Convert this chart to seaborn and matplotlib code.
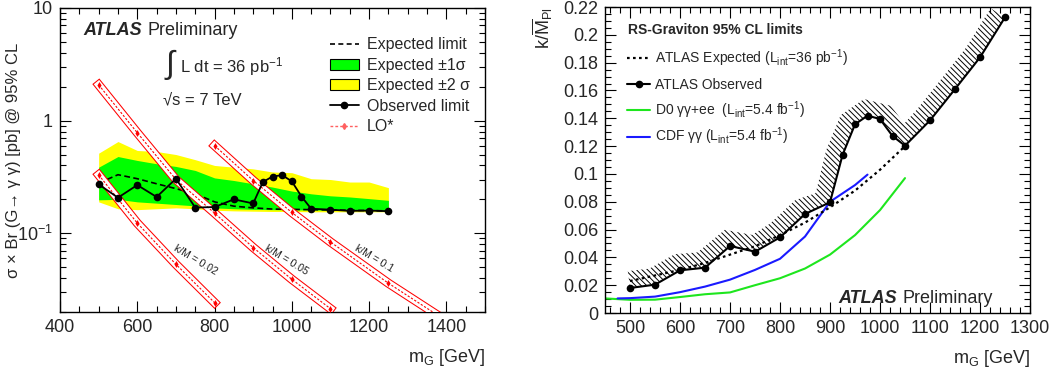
import matplotlib
matplotlib.use("Agg")
import matplotlib.pyplot as plt
from matplotlib import ticker
from matplotlib.lines import Line2D
from matplotlib.patches import Patch
import numpy as np
import seaborn as sns

# ---- left panel: sigma x Br(G -> gamma gamma) limits [pb] ----
MASS = [500, 550, 600, 650, 700, 750, 800, 850, 900, 925, 950, 975,
        1000, 1025, 1050, 1100, 1150, 1200, 1250]
XSEC_OBS = [0.272, 0.207, 0.268, 0.210, 0.305, 0.169, 0.171, 0.200, 0.184, 0.285,
            0.319, 0.328, 0.289, 0.212, 0.165, 0.162, 0.158, 0.159, 0.157]

MASS_EXP = [500, 550, 600, 650, 700, 750, 800, 850, 900, 950, 1000, 1050,
            1100, 1150, 1200, 1250]
XSEC_EXP = [0.279, 0.331, 0.305, 0.275, 0.249, 0.224, 0.190, 0.174, 0.168, 0.164,
            0.163, 0.162, 0.161, 0.160, 0.159, 0.158]
EXP_1S_LO = [0.198, 0.200, 0.190, 0.185, 0.180, 0.175, 0.168, 0.165, 0.163, 0.162,
             0.161, 0.161, 0.160, 0.160, 0.159, 0.159]
EXP_1S_HI = [0.386, 0.480, 0.443, 0.414, 0.392, 0.361, 0.310, 0.294, 0.275, 0.257,
             0.237, 0.224, 0.215, 0.210, 0.203, 0.196]
EXP_2S_LO = [0.190, 0.165, 0.162, 0.165, 0.168, 0.165, 0.160, 0.158, 0.157, 0.156,
             0.156, 0.155, 0.155, 0.155, 0.155, 0.155]
EXP_2S_HI = [0.514, 0.652, 0.543, 0.532, 0.500, 0.450, 0.400, 0.386, 0.373, 0.350,
             0.345, 0.305, 0.300, 0.285, 0.285, 0.254]

# LO* predictions for three couplings
LO_MASS_002 = [500, 600, 700, 800]
LO_XSEC_002 = [0.33, 0.123, 0.053, 0.0242]
LO_MASS_005 = [500, 600, 700, 800, 900, 1000, 1100]
LO_XSEC_005 = [2.08, 0.78, 0.30, 0.151, 0.0747, 0.039, 0.0214]
LO_MASS_01 = [800, 900, 1000, 1100, 1250, 1500]
LO_XSEC_01 = [0.60, 0.294, 0.153, 0.0837, 0.036, 0.010]

# ---- right panel: k / M_Pl limits ----
KM_OBS = [0.0180, 0.0204, 0.0307, 0.0326, 0.0482, 0.0441, 0.0544, 0.0712, 0.0796,
          0.1136, 0.1357, 0.1419, 0.1395, 0.1273, 0.1203, 0.1385, 0.1610, 0.1838, 0.2126]
KM_EXP_MASS = [500, 550, 600, 650, 700, 750, 800, 850, 900, 950, 1000, 1050]
KM_EXP = [0.023, 0.027, 0.031, 0.036, 0.042, 0.048, 0.056, 0.065, 0.076, 0.088,
          0.103, 0.120]
D0_MASS = [450, 500, 550, 600, 650, 700, 750, 800, 850, 900, 950, 1000, 1050]
D0_KM = [0.0105, 0.0095, 0.0096, 0.0115, 0.0135, 0.0148, 0.0200, 0.0250, 0.0320,
         0.0420, 0.0560, 0.0740, 0.0970]
CDF_MASS = [475, 500, 550, 600, 650, 700, 750, 800, 850, 900, 950, 975]
CDF_KM = [0.0105, 0.0107, 0.0118, 0.0150, 0.0190, 0.0240, 0.0310, 0.0390, 0.0550,
          0.0800, 0.0920, 0.0995]

GREEN = "#00ff00"
YELLOW = "#ffff00"
RED = "#ff0000"
D0_GREEN = "#1ee61e"
CDF_BLUE = "#1a1aff"

sns.set_style("ticks")
plt.rcParams["font.family"] = ["Liberation Sans", "DejaVu Sans"]
plt.rcParams["mathtext.fontset"] = "custom"
plt.rcParams["mathtext.rm"] = "Liberation Sans"
plt.rcParams["mathtext.default"] = "regular"
plt.rcParams["hatch.linewidth"] = 0.7
plt.rcParams["hatch.color"] = "black"


def root_ticks(ax, size=13):
    ax.tick_params(which="both", direction="in", top=True, right=True,
                   color="black", width=0.8)
    ax.tick_params(which="major", length=8, labelsize=size, pad=5)
    ax.tick_params(which="minor", length=4)
    for sp in ax.spines.values():
        sp.set_color("black")
        sp.set_linewidth(1.0)


def lo_band(ax, mass, xsec):
    # ROOT-style outlined band around the LO* curve
    sns.lineplot(x=mass, y=xsec, ax=ax, color=RED, lw=6.5,
                 solid_capstyle="projecting", zorder=3)
    sns.lineplot(x=mass, y=xsec, ax=ax, color="white", lw=5.0,
                 solid_capstyle="projecting", zorder=3)
    sns.lineplot(x=mass, y=xsec, ax=ax, color=RED, lw=0.8,
                 linestyle=(0, (2, 1.5)), marker="d", markersize=3.5,
                 markeredgewidth=0, zorder=3)


def hatched_band(ax, x, y, width_px):
    pts = ax.transData.transform(np.column_stack([x, y]))
    tang = np.gradient(pts, axis=0)
    tang /= np.linalg.norm(tang, axis=1)[:, None]
    normal = np.column_stack([-tang[:, 1], tang[:, 0]])
    outer = pts + width_px * normal
    poly = ax.transData.inverted().transform(np.vstack([pts, outer[::-1]]))
    ax.fill(poly[:, 0], poly[:, 1], facecolor="none", edgecolor="black",
            hatch="\\" * 6, lw=0, zorder=1)


fig = plt.figure(figsize=(10.55, 3.7), dpi=100)
ax1 = fig.add_axes([0.0569, 0.1568, 0.4028, 0.8216])
ax2 = fig.add_axes([0.5735, 0.154, 0.4028, 0.827])

# ---------------- left panel ----------------
ax1.set_yscale("log")
ax1.fill_between(MASS_EXP, EXP_2S_LO, EXP_2S_HI, color=YELLOW, lw=0, zorder=1)
ax1.fill_between(MASS_EXP, EXP_1S_LO, EXP_1S_HI, color=GREEN, lw=0, zorder=1)
sns.lineplot(x=MASS_EXP, y=XSEC_EXP, ax=ax1, color="black", lw=1.2,
             linestyle=(0, (3.5, 2)), zorder=2)
for m, xs in [(LO_MASS_002, LO_XSEC_002), (LO_MASS_005, LO_XSEC_005),
              (LO_MASS_01, LO_XSEC_01)]:
    lo_band(ax1, m, xs)
sns.lineplot(x=MASS, y=XSEC_OBS, ax=ax1, color="black", lw=1.3, marker="o",
             markersize=5.5, markeredgewidth=0, zorder=4)

ax1.set_xlim(400, 1500)
ax1.set_ylim(0.02, 10)
ax1.xaxis.set_major_locator(ticker.MultipleLocator(200))
ax1.xaxis.set_minor_locator(ticker.MultipleLocator(50))
ax1.yaxis.set_major_locator(ticker.FixedLocator([0.1, 1, 10]))
ax1.yaxis.set_minor_locator(ticker.LogLocator(base=10, subs=np.arange(2, 10)))
ax1.yaxis.set_minor_formatter(ticker.NullFormatter())
ax1.yaxis.set_major_formatter(ticker.FuncFormatter(
    lambda v, p: "$10^{-1}$" if np.isclose(v, 0.1) else f"{v:g}"))
root_ticks(ax1)
ax1.set_xlabel("m$_{G}$ [GeV]", fontsize=13, loc="right", labelpad=8)
ax1.set_ylabel("σ × Br (G→ γ γ) [pb] @ 95% CL", fontsize=12)
ax1.yaxis.set_label_coords(-0.093, 0.5)

t = ax1.text(0.054, 0.911, "ATLAS", transform=ax1.transAxes, fontsize=13,
             fontweight="bold", fontstyle="italic", va="baseline")
ax1.annotate("Preliminary", xy=(1, 0), xycoords=t, xytext=(4, 0),
             textcoords="offset points", fontsize=13, va="bottom")
ax1.text(0.259, 0.812, "∫", transform=ax1.transAxes, fontsize=23,
         ha="center", va="center")
ax1.text(0.282, 0.806, "L dt = 36 pb$^{-1}$", transform=ax1.transAxes,
         fontsize=12, va="center")
ax1.text(0.242, 0.697, "√s = 7 TeV", transform=ax1.transAxes, fontsize=12,
         va="center")
for xm, ys, lab in [(751, 0.0576, "k/M = 0.02"), (987, 0.0576, "k/M = 0.05"),
                    (1213, 0.0595, "k/M = 0.1")]:
    ax1.text(xm, ys, lab, fontsize=7.5, rotation=-31, ha="center", va="center",
             color="#222222")

handles1 = [
    Line2D([], [], color="black", lw=1.2, linestyle=(0, (3, 2))),
    Patch(facecolor=GREEN, edgecolor="black", lw=0.8),
    Patch(facecolor=YELLOW, edgecolor="black", lw=0.8),
    Line2D([], [], color="black", lw=1.3, marker="o", markersize=4.5),
    Line2D([], [], color="#ff6060", lw=1.0, linestyle=(0, (2, 1.5)),
           marker="d", markersize=3),
]
labels1 = ["Expected limit", "Expected ±1σ", "Expected ±2 σ", "Observed limit", "LO*"]
ax1.legend(handles1, labels1, loc="upper left", bbox_to_anchor=(0.635, 0.903),
           frameon=False, fontsize=11.5, handlelength=1.8, handletextpad=0.5,
           labelspacing=0.34, borderpad=0, borderaxespad=0)

# ---------------- right panel ----------------
ax2.set_xlim(450, 1300)
ax2.set_ylim(0, 0.22)
hatched_band(ax2, MASS, KM_OBS, 17)
sns.lineplot(x=D0_MASS, y=D0_KM, ax=ax2, color=D0_GREEN, lw=1.5, zorder=2)
sns.lineplot(x=CDF_MASS, y=CDF_KM, ax=ax2, color=CDF_BLUE, lw=1.5, zorder=2)
sns.lineplot(x=KM_EXP_MASS, y=KM_EXP, ax=ax2, color="black", lw=1.6,
             linestyle=(0, (1.2, 1.5)), zorder=3)
sns.lineplot(x=MASS, y=KM_OBS, ax=ax2, color="black", lw=1.5, marker="o",
             markersize=5.5, markeredgewidth=0, zorder=4)
ax2.set_xlim(450, 1300)
ax2.set_ylim(0, 0.22)
ax2.xaxis.set_major_locator(ticker.MultipleLocator(100))
ax2.xaxis.set_minor_locator(ticker.MultipleLocator(20))
ax2.yaxis.set_major_locator(ticker.MultipleLocator(0.02))
ax2.yaxis.set_minor_locator(ticker.MultipleLocator(0.005))
ax2.yaxis.set_major_formatter(ticker.FuncFormatter(lambda v, p: f"{v:g}"))
root_ticks(ax2)
ax2.set_xlabel("m$_{G}$ [GeV]", fontsize=13, loc="right", labelpad=8)
ax2.set_ylabel(r"k/$\overline{M}_{Pl}$", fontsize=13, loc="top", labelpad=6)

t2 = ax2.text(0.913, 0.033, "Preliminary", transform=ax2.transAxes, fontsize=13,
              ha="right", va="baseline")
ax2.annotate("ATLAS", xy=(0, 0), xycoords=t2, xytext=(-4, 0),
             textcoords="offset points", fontsize=13, fontweight="bold",
             fontstyle="italic", ha="right", va="bottom")

# legend block, laid out row by row like the ROOT TLegend
ax2.text(0.054, 0.925, "RS-Graviton 95% CL limits", transform=ax2.transAxes,
         fontsize=10, fontweight="bold", va="center")
legend_rows = [
    ("ATLAS Expected (L$_{int}$=36 pb$^{-1}$)",
     dict(color="black", lw=1.6, linestyle=(0, (1.2, 1.5)))),
    ("ATLAS Observed", dict(color="black", lw=1.5, marker="o", markersize=4.5,
                             markevery=[1])),
    ("D0 γγ+ee  (L$_{int}$=5.4 fb$^{-1}$)", dict(color=D0_GREEN, lw=1.5)),
    ("CDF γγ (L$_{int}$=5.4 fb$^{-1}$)", dict(color=CDF_BLUE, lw=1.5)),
]
for i, (lab, style) in enumerate(legend_rows):
    yrow = 0.833 - i * 0.0855
    ax2.plot([0.052, 0.079, 0.106], [yrow] * 3, transform=ax2.transAxes,
             clip_on=False, **style)
    ax2.text(0.118, yrow - 0.015, lab, transform=ax2.transAxes, fontsize=10,
             va="baseline")

fig.savefig("out.png", dpi=100)
